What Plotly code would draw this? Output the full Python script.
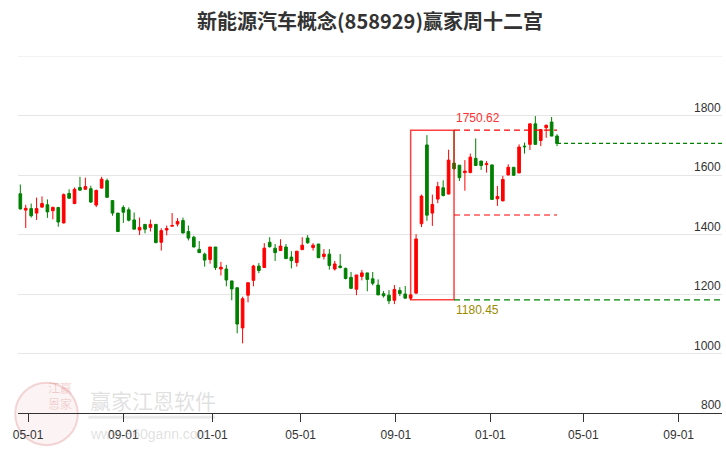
import plotly.graph_objects as go
import pandas as pd

# ---------------- data ----------------
holiday_weeks = ["2023-10-06", "2024-02-16"]  # weeks with no trading (removed from axis)
dates = [d for d in pd.date_range("2023-04-21", periods=102, freq="7D")
         if d.strftime("%Y-%m-%d") not in holiday_weeks]

opens = [1537, 1482, 1487, 1472, 1492, 1500, 1480, 1491, 1439, 1538,
         1504, 1558, 1552, 1554, 1499, 1556, 1581, 1514, 1472, 1491,
         1483, 1449, 1415, 1434, 1424, 1434, 1374, 1415, 1428, 1435,
         1447, 1410, 1391, 1350, 1334, 1316, 1358, 1284, 1284, 1244,
         1221, 1086, 1196, 1246, 1294, 1289, 1374, 1354, 1346, 1358,
         1324, 1306, 1349, 1388, 1356, 1368, 1326, 1334, 1284, 1294,
         1286, 1256, 1216, 1259, 1271, 1251, 1230, 1201, 1196, 1179,
         1212, 1200, 1186, 1203, 1436, 1701, 1472, 1519, 1557, 1536,
         1640, 1633, 1608, 1608, 1656, 1647, 1635, 1634, 1520, 1513,
         1600, 1626, 1607, 1697, 1703, 1772, 1716, 1759, 1778, 1731]
highs = [1568, 1500, 1504, 1524, 1528, 1518, 1494, 1491, 1538, 1552,
         1558, 1594, 1591, 1564, 1551, 1594, 1588, 1514, 1472, 1498,
         1491, 1474, 1457, 1434, 1450, 1434, 1421, 1430, 1472, 1455,
         1457, 1430, 1396, 1378, 1339, 1358, 1358, 1308, 1298, 1244,
         1221, 1191, 1238, 1298, 1304, 1371, 1391, 1368, 1384, 1368,
         1344, 1344, 1391, 1398, 1371, 1368, 1351, 1351, 1311, 1334,
         1289, 1274, 1264, 1281, 1271, 1274, 1249, 1210, 1213, 1230,
         1223, 1227, 1199, 1401, 1534, 1734, 1534, 1577, 1582, 1685,
         1750.62, 1633, 1650, 1672, 1723, 1647, 1647, 1634, 1563, 1597,
         1636, 1626, 1703, 1709, 1772, 1798, 1753, 1770, 1795, 1737]
lows = [1484, 1422, 1457, 1449, 1492, 1456, 1451, 1426, 1437, 1520,
        1502, 1548, 1551, 1506, 1492, 1555, 1524, 1463, 1408, 1439,
        1444, 1417, 1398, 1404, 1410, 1370, 1346, 1397, 1427, 1427,
        1404, 1380, 1357, 1338, 1292, 1302, 1281, 1262, 1226, 1179,
        1068, 1034, 1172, 1226, 1270, 1288, 1356, 1311, 1345, 1318,
        1286, 1292, 1348, 1369, 1346, 1321, 1316, 1282, 1279, 1286,
        1249, 1218, 1196, 1246, 1209, 1229, 1196, 1188, 1166, 1166,
        1193, 1185, 1180.45, 1200, 1425, 1446, 1429, 1505, 1528, 1535,
        1618, 1580, 1547, 1606, 1631, 1617, 1608, 1517, 1496, 1512,
        1599, 1598, 1606, 1672, 1684, 1702, 1697, 1725, 1730, 1697]
closes = [1486, 1488, 1463, 1487, 1504, 1476, 1491, 1442, 1534, 1522,
          1552, 1549, 1561, 1509, 1548, 1586, 1525, 1472, 1410, 1475,
          1448, 1418, 1424, 1418, 1434, 1373, 1413, 1420, 1430, 1444,
          1405, 1388, 1358, 1339, 1314, 1358, 1289, 1290, 1247, 1217,
          1099, 1184, 1238, 1294, 1279, 1354, 1359, 1339, 1361, 1319,
          1312, 1344, 1364, 1372, 1364, 1322, 1334, 1296, 1301, 1289,
          1252, 1219, 1264, 1271, 1249, 1236, 1197, 1194, 1177, 1215,
          1202, 1186, 1197, 1385, 1529, 1465, 1501, 1561, 1531, 1650,
          1621, 1591, 1613, 1660, 1632, 1632, 1638, 1518, 1528, 1585,
          1626, 1599, 1694, 1695, 1772, 1703, 1753, 1767, 1731, 1706]

title_text = "新能源汽车概念(858929)赢家周十二宫"
y_ticks = [800, 1000, 1200, 1400, 1600, 1800]
y_tick_labels = ["800", "1000", "1200", "1400", "1600", "1800"]
box_low, box_high = 1180.45, 1750.62
i_low, i_high = 72, 80          # candles holding the low and the high
x_start, x_end = "2023-04-18", "2025-10-27"

# ---------------- figure ----------------
RED, GREEN = "#ff0000", "#008000"
fig = go.Figure()
fig.add_trace(go.Candlestick(
    x=dates, open=opens, high=highs, low=lows, close=closes,
    increasing=dict(line=dict(color=RED, width=1), fillcolor=RED),
    decreasing=dict(line=dict(color=GREEN, width=1), fillcolor=GREEN),
    whiskerwidth=0, showlegend=False, hoverinfo="skip"))

mid = (box_low + box_high) / 2
last_close = closes[-1]
shapes = [
    dict(type="line", xref="paper", yref="y", x0=0, x1=1, y0=2000, y1=2000,
         line=dict(color="#e6e6e6", width=1)),
    dict(type="rect", xref="x", yref="y", x0=dates[i_low], x1=dates[i_high],
         y0=box_low, y1=box_high, line=dict(color="rgba(255,0,0,0.75)", width=1.5)),
    dict(type="line", xref="x", yref="y", x0=dates[i_high], x1=dates[-1],
         y0=box_high, y1=box_high, line=dict(color=RED, width=1.2, dash="6px,4px")),
    dict(type="line", xref="x", yref="y", x0=dates[i_high], x1=dates[-1],
         y0=mid, y1=mid, line=dict(color=RED, width=1.2, dash="6px,4px")),
    dict(type="line", xref="x", yref="y", x0=dates[i_high], x1=x_end,
         y0=box_low, y1=box_low, line=dict(color=GREEN, width=1.2, dash="6px,4px")),
    dict(type="line", xref="x", yref="y", x0=dates[-1], x1=x_end,
         y0=last_close, y1=last_close, line=dict(color=GREEN, width=1.2, dash="4px,3px")),
    # watermark seal
    dict(type="circle", xref="paper", yref="paper", x0=-0.004, x1=0.085, y0=-0.09, y1=0.085,
         line=dict(color="rgba(200,60,60,0.2)", width=2), fillcolor="rgba(200,60,60,0.06)",
         layer="below"),
    dict(type="line", xref="paper", yref="paper", x0=0.10, x1=0.28, y0=-0.012, y1=-0.012,
         line=dict(color="rgba(160,160,160,0.22)", width=3), layer="below"),
]

annotations = [
    dict(text="1750.62", x=dates[i_high], y=box_high, xref="x", yref="y",
         xanchor="left", yanchor="bottom", yshift=3, showarrow=False,
         font=dict(family="Liberation Sans, Arial", size=12, color="#ff3030")),
    dict(text="1180.45", x=dates[i_high], y=box_low, xref="x", yref="y",
         xanchor="left", yanchor="top", yshift=-1, showarrow=False,
         font=dict(family="Liberation Sans, Arial", size=12, color="#9c8b00")),
    # watermark text
    dict(text="江赢<br>恩家", x=0.04, y=-0.003, xref="paper", yref="paper",
         showarrow=False, font=dict(family="Noto Sans CJK SC", size=12,
                                    color="rgba(200,60,60,0.22)")),
    dict(text="赢家江恩软件", x=0.10, y=0.036, xref="paper", yref="paper",
         xanchor="left", yanchor="middle", showarrow=False,
         font=dict(family="Noto Sans CJK SC", size=21, color="rgba(150,150,150,0.3)")),
    dict(text="www.360gann.com", x=0.10, y=-0.058, xref="paper", yref="paper",
         xanchor="left", yanchor="middle", showarrow=False,
         font=dict(family="Liberation Sans, Arial", size=14, color="rgba(150,150,150,0.3)")),
]
# y-axis labels drawn at the right edge just above each grid line
for v, lab in zip(y_ticks, y_tick_labels):
    annotations.append(dict(text=lab, x=1, y=v, xref="paper", yref="y",
                            xanchor="right", yanchor="bottom", yshift=-1, xshift=1,
                            showarrow=False,
                            font=dict(family="Liberation Sans, Arial", size=12,
                                      color="#333333")))

fig.update_layout(
    width=726, height=450,
    margin=dict(l=18, r=4, t=56, b=37, autoexpand=False),
    paper_bgcolor="white", plot_bgcolor="white",
    title=dict(text=title_text, x=0.5, xref="paper", xanchor="center",
               y=1 - 22 / 450, yref="container", yanchor="middle",
               font=dict(family="Noto Sans CJK SC", size=20, color="#333333",
                         weight="bold")),
    shapes=shapes, annotations=annotations,
    xaxis=dict(type="date", range=[x_start, x_end], automargin=False,
               rangeslider=dict(visible=False),
               rangebreaks=[dict(values=holiday_weeks, dvalue=7 * 24 * 3600 * 1000)],
               tick0="2023-01-01", dtick="M4", tickformat="%m-%d",
               showgrid=False, showline=True, linecolor="#333333", linewidth=1,
               ticks="outside", ticklen=8, tickcolor="#333333", ticklabelstandoff=3,
               tickfont=dict(family="Liberation Sans, Arial", size=12, color="#333333"),
               zeroline=False),
    yaxis=dict(range=[800, 2000], side="right", tickvals=y_ticks, automargin=False,
               showticklabels=False, showgrid=True, gridcolor="#e6e6e6",
               gridwidth=1, zeroline=False, showline=False, ticks=""),
    hovermode=False,
)

fig.write_html("out.html", config={"displayModeBar": False, "staticPlot": True},
               post_script="document.body.style.margin='0';document.body.style.overflow='hidden';")
